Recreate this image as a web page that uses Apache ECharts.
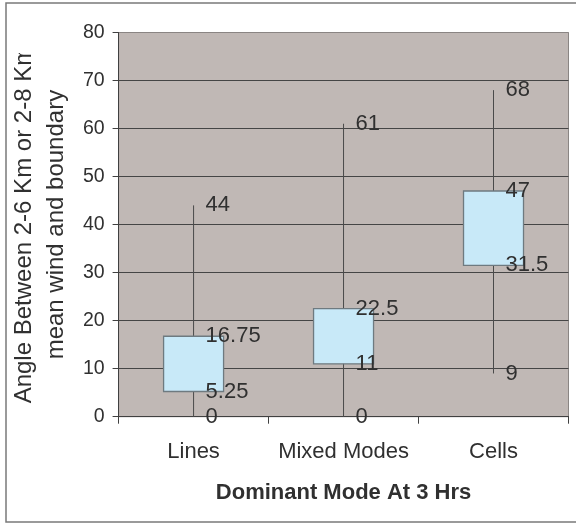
<!DOCTYPE html>
<html>
<head>
<meta charset="utf-8">
<script src="https://cdn.jsdelivr.net/npm/echarts@6/dist/echarts.min.js"></script>
<style>
html,body{margin:0;padding:0;background:#fff;}
#chart{width:576px;height:524px;}
</style>
</head>
<body>
<div id="chart"></div>
<script>
// ---- data ----
const categories = ['Lines', 'Mixed Modes', 'Cells'];
const lowValues = [0, 0, 9];
const q1Values = [5.25, 11, 31.5];
const q3Values = [16.75, 22.5, 47];
const highValues = [44, 61, 68];
const yTicks = [0, 10, 20, 30, 40, 50, 60, 70, 80];

const FONT = 'Liberation Sans, Arial, Helvetica, sans-serif';
const seriesData = categories.map((c, i) => [i, lowValues[i], q1Values[i], q3Values[i], highValues[i]]);

function fmt(v) { return String(v); }

function renderItem(params, api) {
  const idx = api.value(0);
  const lo = api.value(1), q1 = api.value(2), q3 = api.value(3), hi = api.value(4);
  const pLo = api.coord([idx, lo]);
  const pHi = api.coord([idx, hi]);
  const pQ1 = api.coord([idx, q1]);
  const pQ3 = api.coord([idx, q3]);
  const band = api.size([1, 0])[0];
  const w = band * 0.4;
  const cx = pLo[0];
  const children = [
    { type: 'line', shape: { x1: cx, y1: pHi[1], x2: cx, y2: pLo[1] },
      style: { stroke: '#4a4a4a', lineWidth: 1 } },
    { type: 'rect', shape: { x: cx - w / 2, y: pQ3[1], width: w, height: pQ1[1] - pQ3[1] },
      style: { fill: '#C8E9F8', stroke: '#6E7A80', lineWidth: 1.3 } }
  ];
  [[hi, pHi], [q3, pQ3], [q1, pQ1], [lo, pLo]].forEach(([v, p]) => {
    children.push({
      type: 'text', z2: 10,
      style: { text: fmt(v), x: cx + 12, y: p[1], align: 'left', verticalAlign: 'middle',
               fill: '#303030', font: '22px ' + FONT }
    });
  });
  return { type: 'group', children };
}

const chart = echarts.init(document.getElementById('chart'), null, { renderer: 'canvas' });
chart.setOption({
  animation: false,
  backgroundColor: '#ffffff',
  textStyle: { fontFamily: FONT },
  grid: { left: 118.5, top: 32.5, right: 7.5, bottom: 107.3, show: true,
          backgroundColor: '#C0B8B5', borderColor: '#8A8583', borderWidth: 1 },
  xAxis: {
    type: 'category', data: categories, boundaryGap: true,
    axisLine: { show: true, lineStyle: { color: '#404040', width: 1 } },
    axisTick: { show: true, length: 7, inside: false, interval: 0, lineStyle: { color: '#404040' } },
    axisLabel: { fontSize: 22, color: '#303030', margin: 24, interval: 0, fontFamily: FONT },
    splitLine: { show: false },
    name: 'Dominant Mode At 3 Hrs', nameLocation: 'middle', nameGap: 65,
    nameTextStyle: { fontSize: 22, fontWeight: 'bold', color: '#303030', fontFamily: FONT }
  },
  yAxis: {
    type: 'value', min: 0, max: 80, interval: 10,
    axisLine: { show: true, lineStyle: { color: '#404040', width: 1 } },
    axisTick: { show: true, length: 6, inside: false, lineStyle: { color: '#404040' } },
    axisLabel: { fontSize: 19.5, color: '#303030', margin: 14, fontFamily: FONT,
                 formatter: v => yTicks.includes(v) ? String(v) : '' },
    splitLine: { show: true, lineStyle: { width: 1,
      color: ['#404040', '#454545', '#454545', '#454545', '#454545', '#454545', '#454545', '#454545', '#8A8583'] } },
    name: 'Angle Between 2-6 Km or 2-8 Km\nmean wind and boundary',
    nameLocation: 'middle', nameRotate: 90, nameGap: 40,
    nameTextStyle: { fontSize: 24, lineHeight: 32, color: '#303030', fontFamily: FONT }
  },
  series: [{
    type: 'custom', renderItem: renderItem, data: seriesData,
    encode: { x: 0, y: [1, 2, 3, 4] }, clip: false, z: 5
  }],
  graphic: [
    { type: 'rect', z: 100, shape: { x: 8, y: 5, width: 66, height: 48 }, style: { fill: '#ffffff' } },
    { type: 'rect', z: 101, shape: { x: 6, y: 3, width: 575, height: 519 },
      style: { fill: 'none', stroke: '#7A7A7A', lineWidth: 1.5 } }
  ]
});
</script>
</body>
</html>
